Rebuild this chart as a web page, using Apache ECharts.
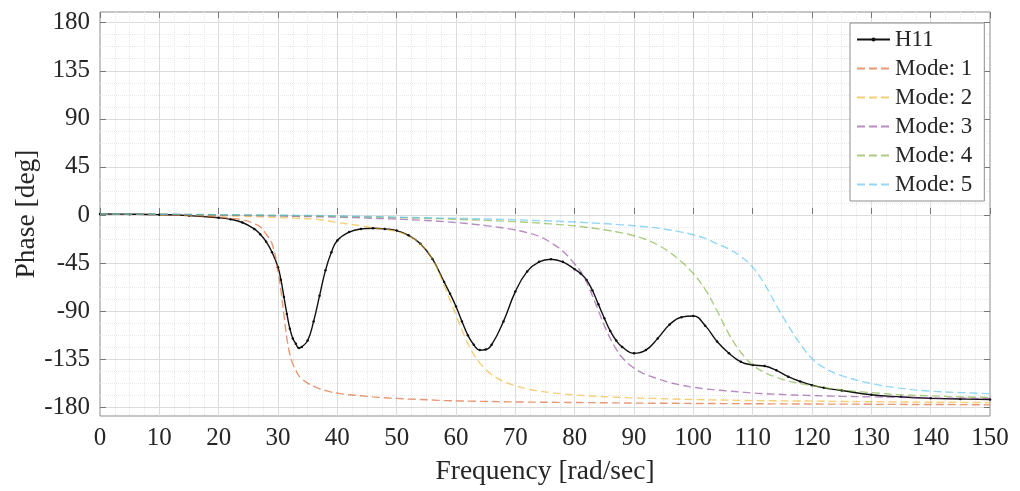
<!DOCTYPE html>
<html><head><meta charset="utf-8">
<script src="https://cdn.jsdelivr.net/npm/echarts@6/dist/echarts.min.js"></script>
<style>html,body{margin:0;padding:0;background:#fff}#c{width:1020px;height:491px}</style>
</head><body><div id="c"></div>
<script>
const freq = [0,5,10,15,20,
 22,24,26,27,28,29,
 30,30.5,31,31.5,32,32.5,33,33.5,34,
 35,36,37,38,39,40,
 42,44,46,48,50,
 52,54,56,58,59,60,
 61,62,63,64,65,66,
 68,70,72,74,76,78,80,
 81,82,83,84,85,86,87,88,
 90,92,94,96,98,100,
 102,104,106,108,110,112,114,116,118,120,
 122,125,130,135,140,145,150];

const h11 = [0,-0.2,-0.6,-1.5,-3.5,
 -5,-8,-14,-19,-26,-36,
 -50,-62,-78,-94,-108,-117,-122,-126,-125,
 -119,-101,-77,-53,-36,-25,
 -17,-14,-13.4,-14,-15.6,
 -20,-28,-42,-64,-75,-87,
 -101,-114,-123,-128,-127.5,-123,
 -101,-73,-54,-45,-42.5,-45,-52,
 -56,-62,-72,-85,-98,-110,-119,-125,
 -131,-128,-117,-104,-97,-96,
 -105,-120,-131,-139,-142,-143,-147,-153,-157.5,-161,
 -163.5,-166,-170,-172,-173.4,-174,-174.5];

const mode1 = [0,-0.2,-0.7,-1.5,-3,
 -4,-5.5,-9,-12,-19,-28,
 -54,-72,-95,-117,-132,-141,-147,-152,-155,
 -159,-162,-164.5,-166,-167.5,-168.5,
 -170,-171,-172,-172.8,-173.4,
 -174,-174.5,-175,-175.5,-175.6,-175.8,
 -175.9,-176,-176.1,-176.2,-176.3,-176.4,
 -176.6,-176.8,-176.9,-177,-177.1,-177.2,-177.3,
 -177.35,-177.4,-177.45,-177.5,-177.55,-177.6,-177.65,-177.7,
 -177.8,-177.9,-178,-178,-178.1,-178.2,
 -178.3,-178.3,-178.4,-178.4,-178.5,-178.5,-178.6,-178.6,-178.7,-178.7,
 -178.8,-178.8,-179,-179.1,-179.2,-179.3,-179.5];

const mode2 = [0,-0.1,-0.4,-0.8,-1.5,
 -1.8,-2.1,-2.5,-2.7,-2.9,-3.1,
 -3.3,-3.4,-3.5,-3.6,-3.7,-3.8,-3.9,-4,-4.1,
 -4.4,-4.8,-5.3,-6,-7,-8,
 -9.5,-11,-13,-14.5,-16.5,
 -20.5,-28,-42,-67,-81,-95,
 -109,-122,-132,-140,-146,-151,
 -157.5,-161.5,-164.5,-166.5,-168,-169.2,-170.2,
 -170.6,-171,-171.3,-171.6,-171.9,-172.1,-172.3,-172.5,
 -173,-173.3,-173.6,-173.9,-174.2,-174.5,
 -174.7,-174.9,-175.1,-175.3,-175.5,-175.6,-175.7,-175.8,-175.9,-176,
 -176.1,-176.3,-176.6,-176.8,-177,-177.2,-177.4];

const mode3 = [0,-0.1,-0.3,-0.6,-1,
 -1.1,-1.3,-1.5,-1.6,-1.7,-1.8,
 -1.9,-1.95,-2,-2.05,-2.1,-2.15,-2.2,-2.25,-2.3,
 -2.4,-2.5,-2.6,-2.7,-2.8,-3,
 -3.3,-3.6,-4,-4.4,-4.8,
 -5.3,-5.8,-6.4,-7.2,-7.6,-8,
 -8.5,-9,-9.6,-10.2,-10.9,-11.6,
 -13.2,-15,-17.5,-21,-27,-35,-47,
 -54,-64,-77,-91,-105,-117,-127,-135,
 -145,-151,-155,-158.5,-161,-163,
 -164.5,-165.6,-166.5,-167.5,-168.4,-169,-169.5,-170,-170.4,-170.8,
 -171.1,-171.5,-172,-172.5,-173,-173.3,-173.6];

const mode4 = [0,-0.1,-0.2,-0.5,-0.8,
 -0.9,-1,-1.1,-1.2,-1.25,-1.3,
 -1.35,-1.4,-1.4,-1.45,-1.5,-1.5,-1.55,-1.6,-1.6,
 -1.7,-1.8,-1.9,-2,-2.1,-2.2,
 -2.4,-2.6,-2.8,-3,-3.3,
 -3.6,-3.9,-4.2,-4.6,-4.8,-5,
 -5.2,-5.4,-5.6,-5.8,-6,-6.2,
 -6.7,-7.2,-7.8,-8.5,-9.3,-10.2,-11.2,
 -11.8,-12.5,-13.2,-14,-14.8,-15.7,-16.7,-17.8,
 -20.5,-24,-29,-36,-45,-56,
 -71,-91,-113,-130,-142,-149,-153.5,-157,-159.5,-161.5,
 -163.3,-165.5,-168,-170,-171,-172,-172.5];

const mode5 = [0,-0.05,-0.2,-0.4,-0.6,
 -0.7,-0.8,-0.9,-0.95,-1,-1.05,
 -1.1,-1.1,-1.15,-1.15,-1.2,-1.2,-1.25,-1.25,-1.3,
 -1.35,-1.4,-1.5,-1.6,-1.7,-1.8,
 -2,-2.2,-2.4,-2.7,-3,
 -3.2,-3.4,-3.6,-3.9,-4,-4.1,
 -4.2,-4.3,-4.4,-4.5,-4.6,-4.8,
 -5.1,-5.4,-5.8,-6.2,-6.6,-7,-7.5,
 -7.8,-8.1,-8.4,-8.7,-9,-9.4,-9.8,-10.2,
 -11,-12,-13.3,-15,-17,-19.5,
 -23,-28,-33,-40,-50,-66,-86,-105,-122,-136,
 -144.5,-152,-159.5,-164,-166.6,-168,-169];

const seriesNames = ['H11','Mode: 1','Mode: 2','Mode: 3','Mode: 4','Mode: 5'];
const xTicks = [0,10,20,30,40,50,60,70,80,90,100,110,120,130,140,150];
const yTicks = [-180,-135,-90,-45,0,45,90,135,180];
const yLimits = [-190,190];

const FONT = 'Liberation Serif';
const TXT = '#262626';
const modeColors = ['rgba(217,83,25,0.6)','rgba(237,177,32,0.6)','rgba(126,47,142,0.55)','rgba(119,172,48,0.6)','rgba(77,190,238,0.6)'];

const plotL = 100, plotT = 12, plotW = 890, plotH = 406;
const pxPerDeg = plotH / (yLimits[1] - yLimits[0]);
const innerT = plotT + (yLimits[1] - yTicks[yTicks.length-1]) * pxPerDeg;
const innerH = (yTicks[yTicks.length-1] - yTicks[0]) * pxPerDeg;

const pairs = arr => freq.map((f, i) => [f, arr[i]]);
const modes = [mode1, mode2, mode3, mode4, mode5];

const series = [{
  name: seriesNames[0], type: 'line', xAxisIndex: 0, yAxisIndex: 0,
  data: pairs(h11), smooth: 0.45, showSymbol: true, showAllSymbol: true,
  symbol: 'circle', symbolSize: 2.5,
  itemStyle: {color: '#111'}, lineStyle: {color: '#111', width: 1.4}, z: 2
}].concat(modes.map((m, k) => ({
  name: seriesNames[k+1], type: 'line', xAxisIndex: 0, yAxisIndex: 0,
  data: pairs(m), smooth: 0.45, symbol: 'none',
  itemStyle: {color: modeColors[k]},
  lineStyle: {color: modeColors[k], width: 1.4, type: [8, 4]}, z: 3
})));

const legendData = seriesNames.map((n, i) => i === 0 ? {name: n} :
  {name: n, itemStyle: {opacity: 0, borderWidth: 0}});

const chart = echarts.init(document.getElementById('c'), null, {renderer: 'canvas'});
chart.setOption({
  animation: false,
  backgroundColor: '#fff',
  grid: [
    {left: plotL, top: plotT, width: plotW, height: plotH, show: true, borderColor: '#8c8c8c', borderWidth: 1, backgroundColor: 'transparent', containLabel: false},
    {left: plotL, top: innerT, width: plotW, height: innerH, show: false, containLabel: false}
  ],
  xAxis: [
    {gridIndex: 0, type: 'value', position: 'bottom', min: xTicks[0], max: xTicks[xTicks.length-1], interval: xTicks[1]-xTicks[0],
     axisLine: {show: false}, axisTick: {show: true, inside: true, length: 6, lineStyle: {color: '#777'}},
     axisLabel: {fontFamily: FONT, fontSize: 25, color: TXT, margin: 10},
     splitLine: {show: true, showMinLine: false, showMaxLine: false, lineStyle: {color: '#dcdcdc', width: 1}},
     minorTick: {show: false, splitNumber: 4},
     minorSplitLine: {show: true, lineStyle: {color: '#e8e8e8', width: 1, type: 'dotted'}},
     name: 'Frequency [rad/sec]', nameLocation: 'middle', nameGap: 42,
     nameTextStyle: {fontFamily: FONT, fontSize: 27.5, color: TXT}},
    {gridIndex: 0, type: 'value', position: 'top', min: xTicks[0], max: xTicks[xTicks.length-1], interval: xTicks[1]-xTicks[0],
     axisLine: {show: false}, axisTick: {show: true, inside: true, length: 6, lineStyle: {color: '#777'}},
     axisLabel: {show: false}, splitLine: {show: false}},
    {gridIndex: 1, type: 'value', min: xTicks[0], max: xTicks[xTicks.length-1], show: false}
  ],
  yAxis: [
    {gridIndex: 0, type: 'value', min: yLimits[0], max: yLimits[1],
     axisLine: {show: false}, axisTick: {show: false}, axisLabel: {show: false}, splitLine: {show: false},
     name: 'Phase [deg]', nameLocation: 'middle', nameGap: 59,
     nameTextStyle: {fontFamily: FONT, fontSize: 27.5, color: TXT}},
    {gridIndex: 1, type: 'value', position: 'left', min: yTicks[0], max: yTicks[yTicks.length-1], interval: yTicks[1]-yTicks[0],
     axisLine: {show: false}, axisTick: {show: true, inside: true, length: 6, lineStyle: {color: '#777'}},
     axisLabel: {fontFamily: FONT, fontSize: 25, color: TXT, margin: 10},
     splitLine: {show: true, lineStyle: {color: '#dcdcdc', width: 1}},
     minorTick: {show: false, splitNumber: 4},
     minorSplitLine: {show: true, lineStyle: {color: '#e8e8e8', width: 1, type: 'dotted'}}},
    {gridIndex: 1, type: 'value', position: 'right', min: yTicks[0], max: yTicks[yTicks.length-1], interval: yTicks[1]-yTicks[0],
     axisLine: {show: false}, axisTick: {show: true, inside: true, length: 6, lineStyle: {color: '#777'}},
     axisLabel: {show: false}, splitLine: {show: false}}
  ],
  legend: {
    orient: 'vertical', left: 850, top: 23, padding: [5, 12, 5, 6], itemGap: 6,
    itemWidth: 33, itemHeight: 5, backgroundColor: '#fff', borderColor: '#8c8c8c', borderWidth: 1, borderRadius: 0,
    textStyle: {fontFamily: FONT, fontSize: 23, color: TXT},
    data: legendData
  },
  series: series
});
</script></body></html>
